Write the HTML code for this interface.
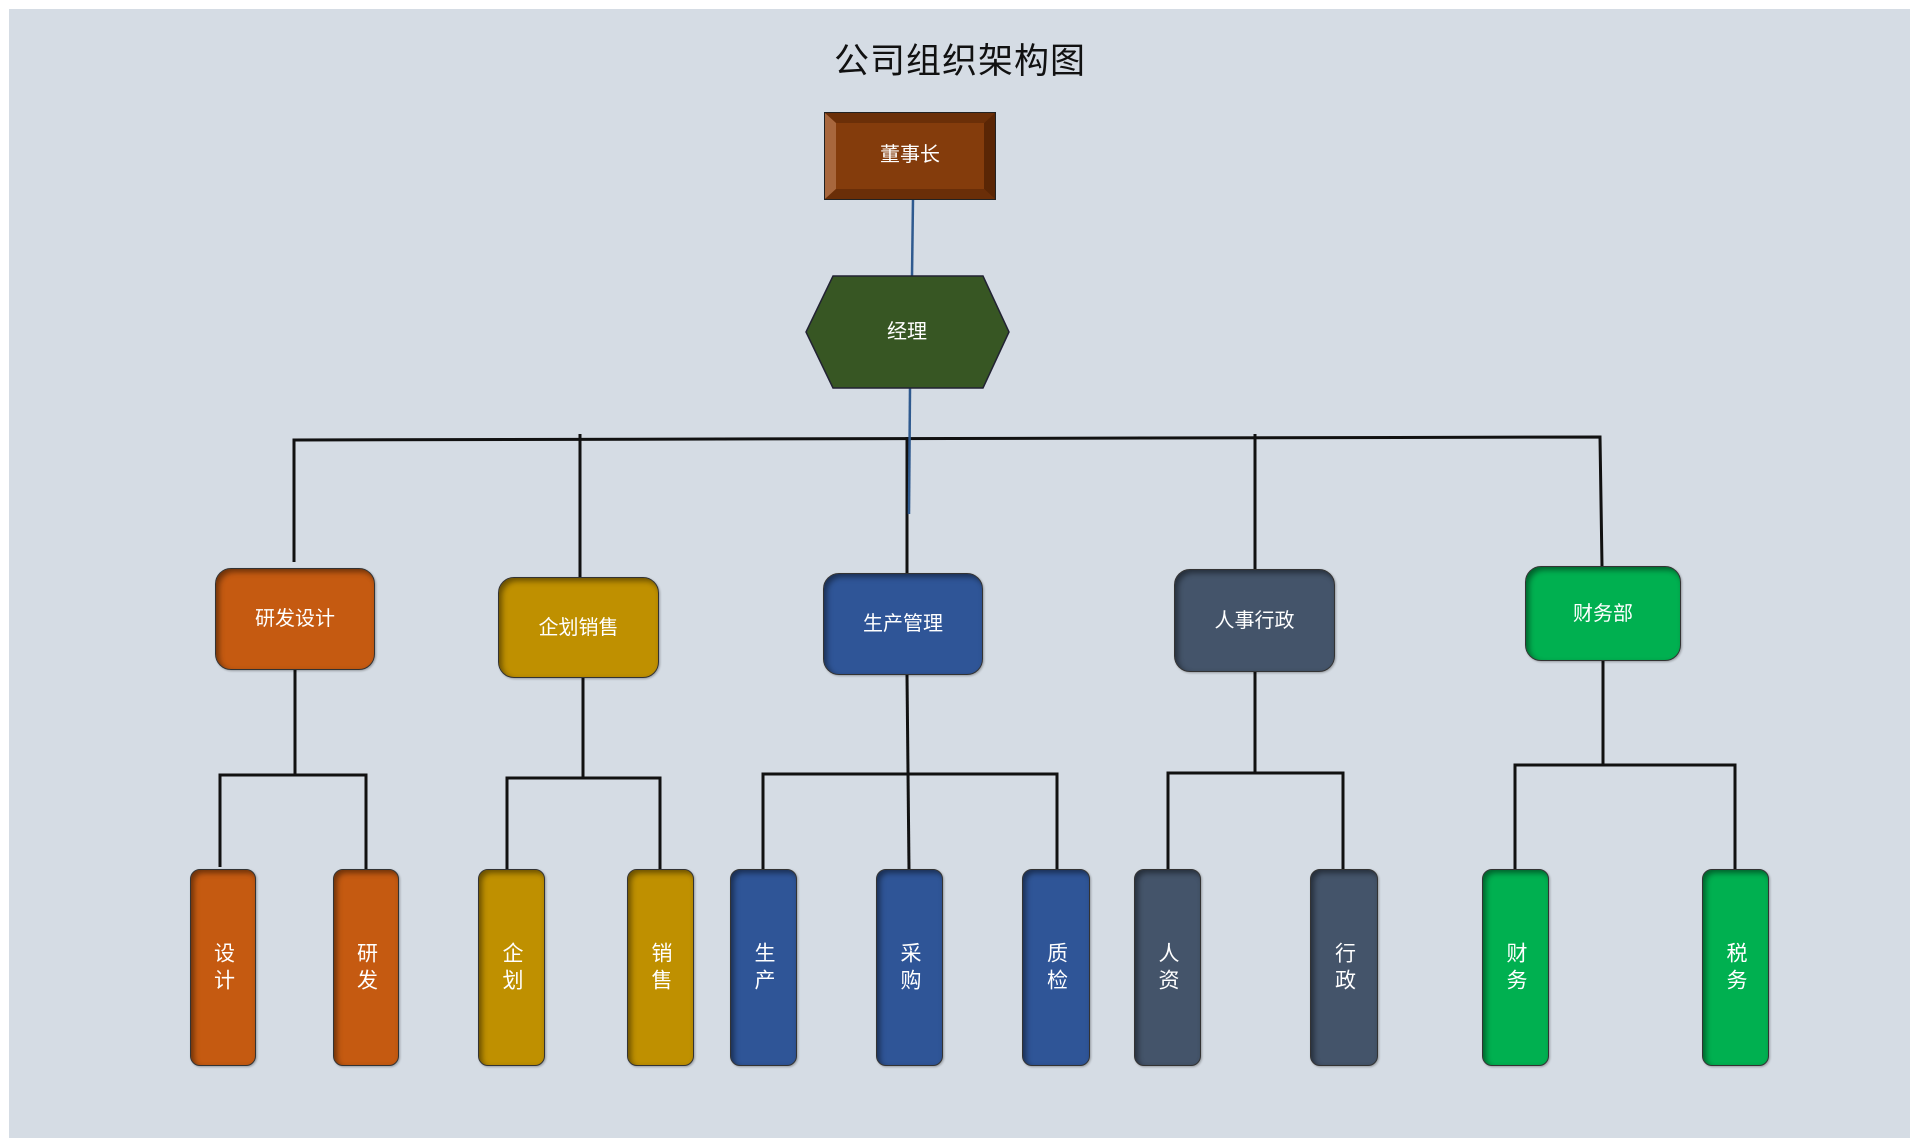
<!DOCTYPE html>
<html><head><meta charset="utf-8"><style>
*{margin:0;padding:0;box-sizing:border-box}
body{width:1920px;height:1146px;background:#fff;position:relative;overflow:hidden;font-family:"Liberation Sans","Noto Sans CJK SC",sans-serif}
#bg{position:absolute;left:9px;top:9px;width:1901px;height:1129px;background:#d5dce4}
.t{position:absolute;left:0;width:1920px;top:33px;text-align:center;font-size:35px;color:#111;letter-spacing:1px}
.b{position:absolute;display:flex;align-items:center;justify-content:center;color:#fff;border:1.5px solid #333;border-radius:16px;font-size:20px;box-shadow:inset 3px 3px 6px rgba(0,0,0,.45),1px 1px 2px rgba(0,0,0,.3);padding-bottom:5px}
.l{border-radius:10px;writing-mode:vertical-rl;text-orientation:upright;font-size:21px;line-height:1;letter-spacing:6px;padding-top:2px;padding-bottom:0}
.o{background:#c55a11}.g{background:#bf9000}.u{background:#2f5597}.s{background:#44546a}.n{background:#00b050}
svg{position:absolute;left:0;top:0}
</style></head><body>
<div id="bg"></div>
<div class="t">公司组织架构图</div>
<svg width="1920" height="1146">
<g stroke="#111" stroke-width="3" fill="none">
<polyline points="294,562 294,440 1600,437 1602,566"/>
<line x1="580" y1="434" x2="580" y2="577"/>
<line x1="907" y1="437" x2="907" y2="573"/>
<line x1="1255" y1="434" x2="1255" y2="569"/>
<polyline points="220,867 220,775 366,775 366,869"/>
<line x1="295" y1="670" x2="295" y2="775"/>
<polyline points="507,869 507,778 660,778 660,869"/>
<line x1="583" y1="678" x2="583" y2="778"/>
<polyline points="763,869 763,774 1057,774 1057,869"/>
<line x1="907" y1="675" x2="909" y2="869"/>
<polyline points="1168,871 1168,773 1343,773 1343,869"/>
<line x1="1255" y1="672" x2="1255" y2="773"/>
<polyline points="1515,869 1515,765 1735,765 1735,869"/>
<line x1="1603" y1="661" x2="1603" y2="765"/>
</g>
<g stroke="#2f5a8f" stroke-width="2.5">
<line x1="913" y1="199" x2="912" y2="276"/>
<line x1="910" y1="388" x2="909" y2="514"/>
</g>
<rect x="825" y="113" width="170" height="86" fill="#843c0c" stroke="#222" stroke-width="2"/>
<polygon points="825,113 995,113 984,123 836,123" fill="#6b2f08"/>
<polygon points="825,113 836,123 836,189 825,199" fill="#a8673d"/>
<polygon points="995,113 984,123 984,189 995,199" fill="#5a2605"/>
<polygon points="825,199 836,189 984,189 995,199" fill="#6a2e08"/>
<rect x="836" y="123" width="148" height="66" fill="#843c0c"/>
<text x="910" y="161" fill="#fff" font-size="20" text-anchor="middle" font-family="Liberation Sans,Noto Sans CJK SC,sans-serif">董事长</text>
<polygon points="833,276 983,276 1009,332 983,388 833,388 806,332" fill="#375623" stroke="#223" stroke-width="1.5"/>
<text x="907" y="338" fill="#fff" font-size="20" text-anchor="middle" font-family="Liberation Sans,Noto Sans CJK SC,sans-serif">经理</text>
</svg>
<div class="b o" style="left:215px;top:568px;width:160px;height:102px">研发设计</div>
<div class="b g" style="left:498px;top:577px;width:161px;height:101px">企划销售</div>
<div class="b u" style="left:823px;top:573px;width:160px;height:102px">生产管理</div>
<div class="b s" style="left:1174px;top:569px;width:161px;height:103px">人事行政</div>
<div class="b n" style="left:1525px;top:566px;width:156px;height:95px">财务部</div>
<div class="b l o" style="left:190px;top:869px;width:66px;height:197px">设计</div>
<div class="b l o" style="left:333px;top:869px;width:66px;height:197px">研发</div>
<div class="b l g" style="left:478px;top:869px;width:67px;height:197px">企划</div>
<div class="b l g" style="left:627px;top:869px;width:67px;height:197px">销售</div>
<div class="b l u" style="left:730px;top:869px;width:67px;height:197px">生产</div>
<div class="b l u" style="left:876px;top:869px;width:67px;height:197px">采购</div>
<div class="b l u" style="left:1022px;top:869px;width:68px;height:197px">质检</div>
<div class="b l s" style="left:1134px;top:869px;width:67px;height:197px">人资</div>
<div class="b l s" style="left:1310px;top:869px;width:68px;height:197px">行政</div>
<div class="b l n" style="left:1482px;top:869px;width:67px;height:197px">财务</div>
<div class="b l n" style="left:1702px;top:869px;width:67px;height:197px">税务</div>
</body></html>
